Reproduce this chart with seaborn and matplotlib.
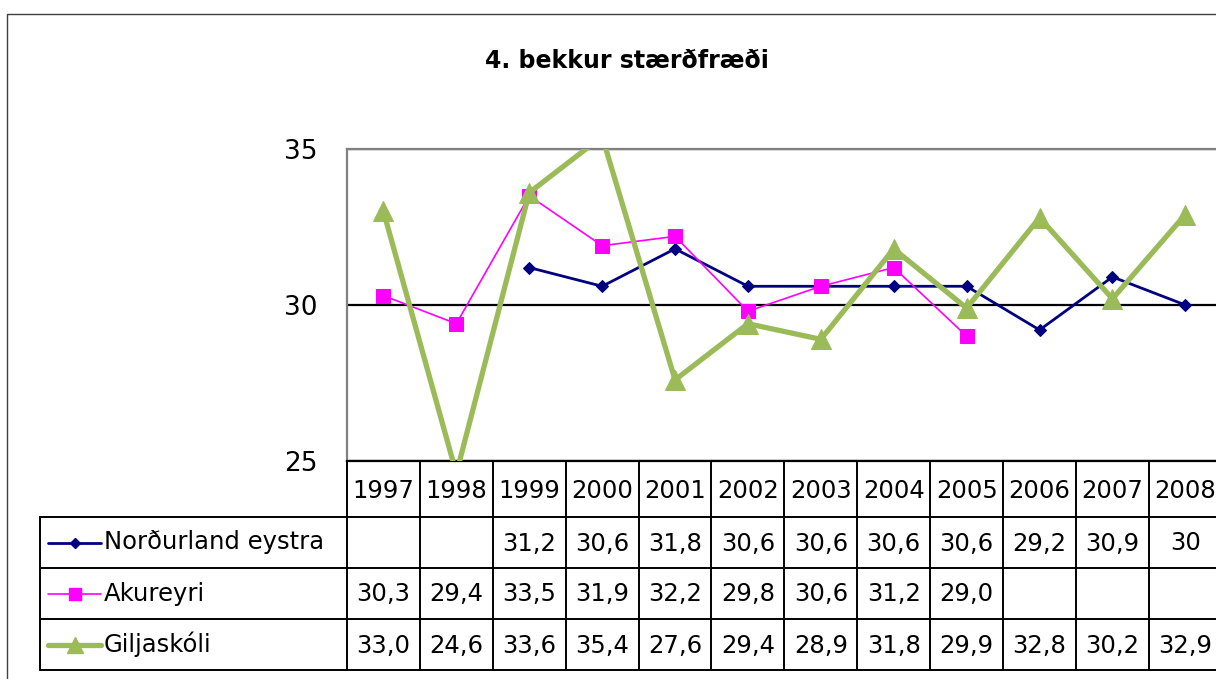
import numpy as np
import pandas as pd
import matplotlib
matplotlib.use("Agg")
import matplotlib.pyplot as plt
import seaborn as sns

# -----------------------------
# Data
# -----------------------------
years = [1997, 1998, 1999, 2000, 2001, 2002, 2003, 2004, 2005, 2006, 2007, 2008]
nordurland = [np.nan, np.nan, 31.2, 30.6, 31.8, 30.6, 30.6, 30.6, 30.6, 29.2, 30.9, 30.0]
akureyri = [30.3, 29.4, 33.5, 31.9, 32.2, 29.8, 30.6, 31.2, 29.0, np.nan, np.nan, np.nan]
giljaskoli = [33.0, 24.6, 33.6, 35.4, 27.6, 29.4, 28.9, 31.8, 29.9, 32.8, 30.2, 32.9]
series_names = ["Norðurland eystra", "Akureyri", "Giljaskóli"]
title = "4. bekkur stærðfræði"
y_ticks = [25, 30, 35]

# -----------------------------
# Styles
# -----------------------------
styles = [
    dict(color="#000080", marker="D", markersize=6.5, linewidth=2.0, fmt="g"),
    dict(color="#FF00FF", marker="s", markersize=10, linewidth=1.2, fmt=".1f"),
    dict(color="#9BBB59", marker="^", markersize=14, linewidth=3.8, fmt=".1f"),
]

sns.set_style("white")
plt.rcParams["font.family"] = ["DejaVu Sans"]
plt.rcParams["text.color"] = "black"
plt.rcParams["ytick.labelcolor"] = "black"

W, H = 1216, 679
fig = plt.figure(figsize=(W / 100, H / 100), dpi=100)

# plot area in pixels
left, top, bottom = 347, 149, 461
col_w = 72.9
ax = fig.add_axes([left / W, 1 - bottom / H, 12 * col_w / W, (bottom - top) / H])

frame = pd.DataFrame({"year": years})
for name, vals in zip(series_names, [nordurland, akureyri, giljaskoli]):
    frame[name] = vals

for name, st in zip(series_names, styles):
    d = frame[["year", name]].dropna()
    sns.lineplot(data=d, x="year", y=name, ax=ax, color=st["color"],
                 marker=st["marker"], markersize=st["markersize"],
                 markeredgecolor=st["color"], markerfacecolor=st["color"],
                 linewidth=st["linewidth"], zorder=3)

ax.set_xlim(years[0] - 0.5, years[-1] + 0.5)
ax.set_ylim(y_ticks[0], y_ticks[-1])
ax.set_yticks(y_ticks)
ax.set_xticks([])
ax.set_xlabel("")
ax.set_ylabel("")
ax.grid(axis="y", color="black", linewidth=1.6)
ax.set_axisbelow(True)
ax.tick_params(axis="y", length=9, width=1.5, color="#808080", labelsize=19, pad=12)
for s in ["left", "top"]:
    ax.spines[s].set_color("#808080")
    ax.spines[s].set_linewidth(1.6)
ax.spines["bottom"].set_color("black")
ax.spines["bottom"].set_linewidth(1.6)
ax.spines["right"].set_visible(False)

# -----------------------------
# Overlay: border, title and data table
# -----------------------------
ov = fig.add_axes([0, 0, 1, 1], zorder=5)
ov.set_xlim(0, W)
ov.set_ylim(H, 0)
ov.axis("off")
ov.patch.set_alpha(0)

ov.plot([7, 7, W], [H, 14, 14], color="#404040", lw=1.0)
ov.text(627, 61, title, ha="center", va="center", fontsize=17, fontweight="bold")

# column boundaries from the plot's own x scale
edges = [ax.transData.transform((y - 0.5, 0))[0] for y in years] + \
        [ax.transData.transform((years[-1] + 0.5, 0))[0]]
centers = [ax.transData.transform((y, 0))[0] for y in years]

header_bot = 517
row_h = 51
row_tops = [header_bot + i * row_h for i in range(len(series_names) + 1)]
label_left = 40
lw_t = 1.4
fs = 17.5

for x in edges:
    ov.plot([x, x], [bottom, row_tops[-1]], color="black", lw=lw_t)
for yline in row_tops:
    ov.plot([label_left, W], [yline, yline], color="black", lw=lw_t)
ov.plot([label_left, label_left], [row_tops[0], row_tops[-1]], color="black", lw=lw_t)

for yr, cx in zip(years, centers):
    ov.text(cx, (bottom + header_bot) / 2 + 2, str(yr), ha="center", va="center", fontsize=fs)

for i, (name, st) in enumerate(zip(series_names, styles)):
    cy = row_tops[i] + row_h / 2
    ov.plot([48, 74.5, 101], [cy, cy, cy], color=st["color"], lw=st["linewidth"],
            marker=st["marker"], markevery=[1], markersize=st["markersize"] * 0.85,
            markeredgecolor=st["color"], markerfacecolor=st["color"])
    ov.text(104, cy, name, ha="left", va="center", fontsize=fs)
    vals = frame[name].tolist()
    for v, cx in zip(vals, centers):
        if pd.isna(v):
            continue
        txt = format(v, st["fmt"]).replace(".", ",")
        ov.text(cx, cy + 1, txt, ha="center", va="center", fontsize=fs)

fig.savefig("out.png", dpi=100)
